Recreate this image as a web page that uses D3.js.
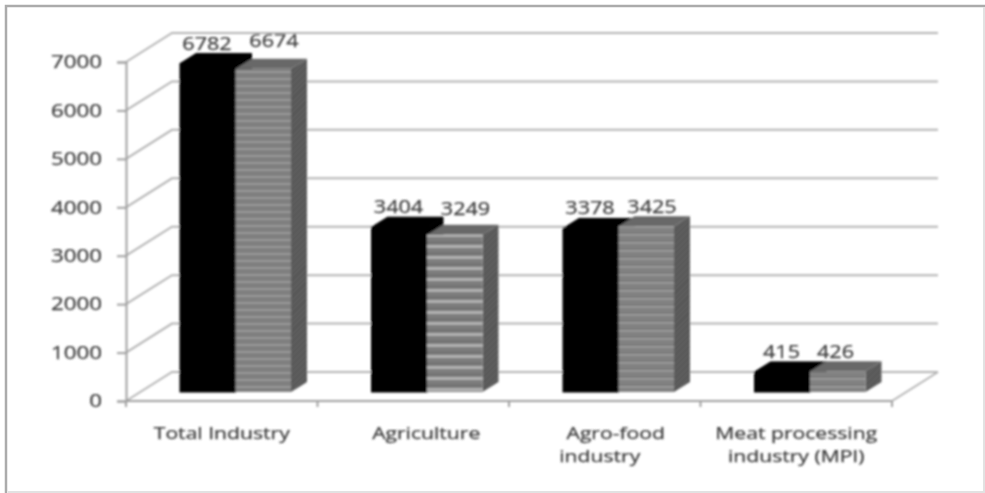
<!DOCTYPE html>
<html>
<head>
<meta charset="utf-8">
<script src="https://cdn.jsdelivr.net/npm/d3@7"></script>
<style>
  html, body { margin: 0; padding: 0; background: #fff; }
  svg { display: block; }
  text { font-family: "Open Sans", sans-serif; fill: #3a3a3a; stroke: #3a3a3a; stroke-width: 0.25px; }
</style>
</head>
<body>
<div id="chart"></div>
<script>
const categories = ['Total Industry', 'Agriculture', 'Agro-food industry', 'Meat processing industry (MPI)'];
const categoryLines = [['Total Industry'], ['Agriculture'], ['Agro-food', 'industry'], ['Meat processing', 'industry (MPI)']];
const seriesA = [6782, 3404, 3378, 415];
const seriesB = [6674, 3249, 3425, 426];
const yTicks = [0, 1000, 2000, 3000, 4000, 5000, 6000, 7000];

const width = 985, height = 493;
const wall = { dx: 46, dy: -29 };
const barDepth = { dx: 16, dy: -10 };
const baseY = 392;

// hand placed labels in the source: offsets from the front bar edge / top
const labelBX = [94, 94, 89, 81];
const labelBY = [22, 20, 13, 13];
const catShift = [[0], [13], [11, -5], [0, 0]];

const svg = d3.select('#chart').append('svg')
    .attr('width', width)
    .attr('height', height);

const defs = svg.append('defs');
defs.append('filter').attr('id', 'soft')
    .append('feGaussianBlur').attr('stdDeviation', 0.8);

// grey stripes on the second series
function stripePattern(id, period, base, lines) {
    const p = defs.append('pattern').attr('id', id)
        .attr('patternUnits', 'userSpaceOnUse').attr('width', 8).attr('height', period);
    p.append('rect').attr('width', 8).attr('height', period).attr('fill', base);
    lines.forEach(l => p.append('rect').attr('y', l[0]).attr('width', 8).attr('height', l[1]).attr('fill', l[2]));
}
stripePattern('stripesFine', 7, '#787878', [[1, 2, '#9c9c9c'], [5, 1, '#8c8c8c']]);
stripePattern('stripesWide', 11, '#747474', [[3, 3, '#b2b2b2'], [8, 1, '#8c8c8c']]);
stripePattern('stripesMid', 8, '#7a7a7a', [[2, 2, '#9c9c9c'], [6, 1, '#8e8e8e']]);
const frontFills = ['url(#stripesFine)', 'url(#stripesWide)', 'url(#stripesMid)', 'url(#stripesMid)'];

const dark = defs.append('pattern').attr('id', 'hatch')
    .attr('patternUnits', 'userSpaceOnUse').attr('width', 4).attr('height', 4)
    .attr('patternTransform', 'rotate(45)');
dark.append('rect').attr('width', 4).attr('height', 4).attr('fill', '#5e5e5e');
dark.append('rect').attr('width', 1).attr('height', 4).attr('fill', '#505050');

// photo frame: dark on top and left, faint on the other two sides
svg.append('path')
    .attr('fill', 'none').attr('stroke', '#ababab').attr('stroke-width', 2.5)
    .attr('d', `M${width},6H6V${height}`);
svg.append('path')
    .attr('fill', 'none').attr('stroke', '#e2e2e2').attr('stroke-width', 2)
    .attr('d', `M${width - 1},7V${height - 1}H8`);

const root = svg.append('g').attr('filter', 'url(#soft)');

const x = d3.scaleBand().domain(categories).range([126, 892]);
const y = d3.scaleLinear().domain([0, 7000]).range([401, 62]);
const unit = y(0) - y(1);
const barH = v => v * unit;
const barW = 55.5;
const pad = 54;

// stretch a text horizontally, the source glyphs are wider than any installed font
function stretch(sel, k) {
    sel.each(function () {
        const w = this.getComputedTextLength();
        d3.select(this).attr('textLength', w * k).attr('lengthAdjust', 'spacingAndGlyphs');
    });
}

// walls and floor
const gridColor = '#b4b4b4';
const grid = root.append('g');
grid.selectAll('path.grid')
    .data(yTicks)
    .join('path')
    .attr('class', 'grid')
    .attr('fill', 'none')
    .attr('stroke', gridColor)
    .attr('stroke-width', 2)
    .attr('d', d => `M${x.range()[0]},${y(d)}l${wall.dx},${wall.dy}H${x.range()[1] + wall.dx}`);
grid.append('path')
    .attr('fill', 'none')
    .attr('stroke', gridColor)
    .attr('stroke-width', 2)
    .attr('d', `M${x.range()[1]},${y(0)}l${wall.dx},${wall.dy}`);

// axes
const axisColor = '#a0a0a0';
const axisLeft = d3.axisLeft(y).tickValues(yTicks).tickFormat(d3.format('d')).tickSize(9).tickPadding(15);
const yAxis = root.append('g').attr('transform', 'translate(126,0)').call(axisLeft);
yAxis.select('.domain').attr('stroke', axisColor).attr('stroke-width', 2);
yAxis.selectAll('.tick line').attr('stroke', axisColor).attr('stroke-width', 2);
yAxis.selectAll('.tick text')
    .style('font-size', '18px')
    .style('font-family', '"Open Sans", sans-serif')
    .call(stretch, 1.24);

const edges = categories.map(c => x(c)).concat(x.range()[1]);
root.append('line')
    .attr('x1', 126).attr('x2', 892)
    .attr('y1', y(0)).attr('y2', y(0))
    .attr('stroke', axisColor).attr('stroke-width', 2);
root.selectAll('line.xtick')
    .data(edges)
    .join('line')
    .attr('class', 'xtick')
    .attr('x1', d => d).attr('x2', d => d)
    .attr('y1', y(0)).attr('y2', y(0) + 6)
    .attr('stroke', axisColor).attr('stroke-width', 2);

// one 3d box: side, top, front. solid boxes get an outline to close the seams
function box(g, bx, value, front, top, side, outline) {
    const h = barH(value);
    const ty = baseY - h;
    const faces = [
        g.append('path').attr('fill', side)
            .attr('d', `M${bx + barW},${ty}l${barDepth.dx},${barDepth.dy}v${h}l${-barDepth.dx},${-barDepth.dy}Z`),
        g.append('path').attr('fill', top)
            .attr('d', `M${bx},${ty}l${barDepth.dx},${barDepth.dy}h${barW}l${-barDepth.dx},${-barDepth.dy}Z`),
        g.append('rect').attr('x', bx).attr('y', ty).attr('width', barW).attr('height', h).attr('fill', front)
    ];
    if (outline) faces.forEach(f => f.attr('stroke', outline).attr('stroke-width', 1));
}

// black first, the striped box sits in front of its side face
const bars = root.append('g');
categories.forEach((c, i) => {
    const g = bars.append('g');
    const x0 = x(c) + pad;
    box(g, x0, seriesA[i], '#000', '#000', '#000', '#000');
    box(g, x0 + barW, seriesB[i], frontFills[i], '#686868', 'url(#hatch)');
});

// value labels
const labelStyle = sel => sel
    .attr('text-anchor', 'middle')
    .style('font-size', '18px');
categories.forEach((c, i) => {
    const x0 = x(c) + pad;
    root.append('text').call(labelStyle)
        .attr('x', x0 + 27)
        .attr('y', baseY - barH(seriesA[i]) - 14)
        .text(seriesA[i])
        .call(stretch, 1.2);
    root.append('text').call(labelStyle)
        .attr('x', x0 + labelBX[i])
        .attr('y', baseY - barH(seriesB[i]) - labelBY[i])
        .text(seriesB[i])
        .call(stretch, 1.2);
});

// category labels
categories.forEach((c, i) => {
    const cx = x(c) + x.bandwidth() / 2;
    categoryLines[i].forEach((line, k) => {
        root.append('text')
            .attr('text-anchor', 'middle')
            .attr('x', cx + catShift[i][k])
            .attr('y', 439 + k * 23)
            .style('font-size', '16.5px')
            .text(line)
            .call(stretch, 1.28);
    });
});
</script>
</body>
</html>
